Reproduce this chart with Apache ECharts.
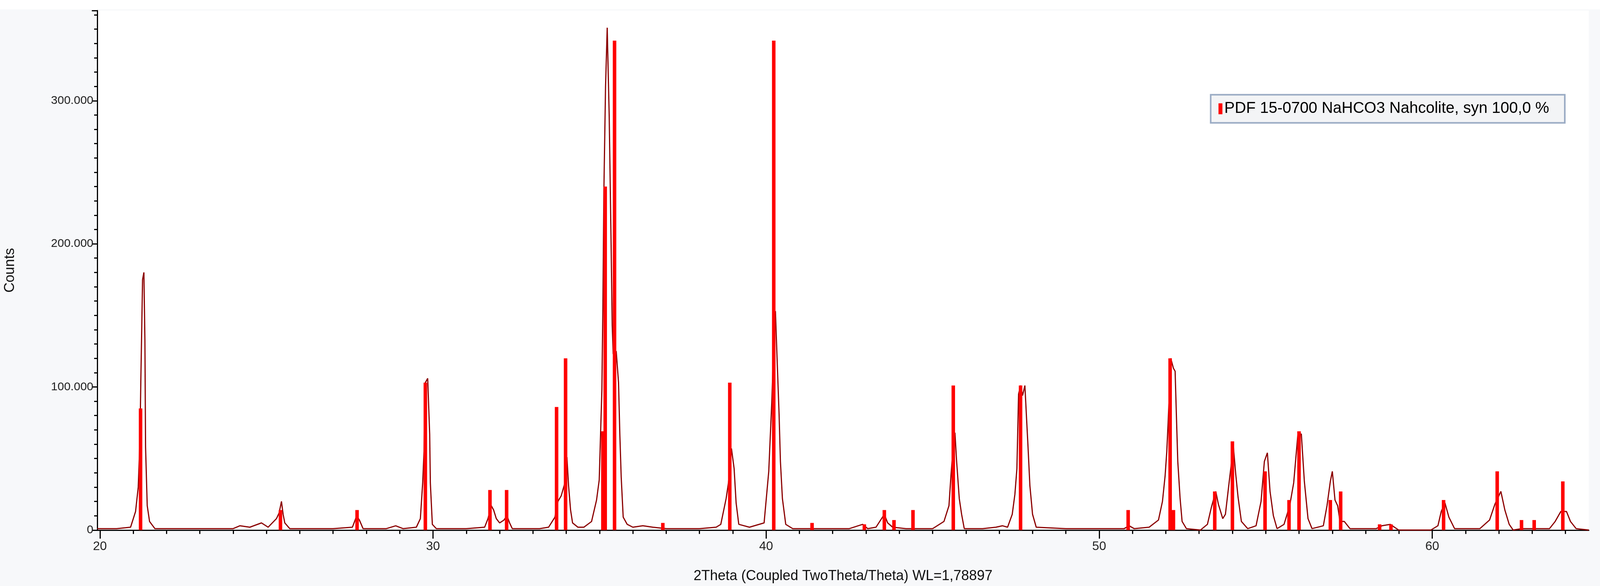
<!DOCTYPE html>
<html>
<head>
<meta charset="utf-8">
<script src="https://cdn.jsdelivr.net/npm/echarts@6/dist/echarts.min.js"></script>
<style>
html, body { margin: 0; padding: 0; background: #ffffff; overflow: hidden; width: 100%; height: 100%; }
#chart { position: absolute; left: 0; top: 1.6%; width: 100%; height: 98.4%; background: #f7f8fa; }
</style>
</head>
<body>
<div id="chart"></div>
<script>
// measured pattern: [2theta, counts in thousands]
var scanPoints = [
  [19.92,1],[20.5,1],[20.92,2],[21.07,13],[21.15,30],[21.2,62],[21.23,107],[21.25,134],[21.28,175],[21.32,180],
  [21.35,133],[21.37,58],[21.42,17],[21.49,6],[21.65,1],[22.5,1],[23.2,1],[24.0,1],[24.2,3],[24.5,2],
  [24.85,5],[25.05,2],[25.3,8],[25.38,12],[25.45,20],[25.5,11],[25.55,5],[25.7,1],[26.5,1],[27.0,1],
  [27.58,2],[27.71,10],[27.79,7],[27.9,1],[28.6,1],[28.88,3],[29.1,1],[29.5,2],[29.62,8],[29.69,33],
  [29.73,55],[29.77,103],[29.84,106],[29.9,67],[29.92,33],[29.98,4],[30.1,1],[31.0,1],[31.55,2],[31.65,8],
  [31.75,17],[31.82,14],[31.9,8],[32.0,5],[32.13,7],[32.22,10],[32.3,5],[32.38,1],[33.2,1],[33.47,2],
  [33.66,9],[33.75,20],[33.85,24],[33.96,33],[34.02,51],[34.07,31],[34.13,14],[34.19,5],[34.35,2],[34.53,2],
  [34.76,6],[34.91,21],[34.99,35],[35.07,98],[35.1,156],[35.13,237],[35.18,310],[35.23,351],[35.29,289],[35.35,195],
  [35.38,143],[35.41,123],[35.5,125],[35.57,103],[35.61,66],[35.65,37],[35.71,9],[35.83,4],[36.0,2],[36.3,3],
  [36.6,2],[37.0,1],[38.0,1],[38.5,2],[38.64,4],[38.8,22],[38.87,33],[38.96,57],[39.04,43],[39.1,19],
  [39.18,4],[39.5,2],[39.94,5],[40.08,41],[40.17,89],[40.23,130],[40.28,153],[40.33,120],[40.39,81],[40.43,48],
  [40.49,22],[40.59,4],[40.8,1],[41.5,1],[42.5,1],[42.9,4],[43.05,1],[43.3,2],[43.55,11],[43.65,5],
  [43.8,2],[44.2,1],[45.0,1],[45.34,6],[45.49,17],[45.55,38],[45.59,50],[45.67,68],[45.72,48],[45.8,22],
  [45.87,11],[45.95,1],[46.5,1],[46.9,2],[47.1,3],[47.25,2],[47.39,11],[47.47,25],[47.53,43],[47.58,95],
  [47.64,101],[47.7,94],[47.77,101],[47.82,78],[47.86,60],[47.92,31],[48.0,11],[48.11,2],[49.0,1],[50.0,1],
  [50.75,1],[50.9,3],[51.05,1],[51.5,2],[51.78,7],[51.9,20],[51.98,38],[52.03,55],[52.07,75],[52.15,120],
  [52.23,113],[52.28,111],[52.32,79],[52.36,48],[52.43,22],[52.49,6],[52.62,1],[53.04,0],[53.25,4],[53.37,16],
  [53.5,27],[53.58,18],[53.71,8],[53.79,11],[53.92,37],[54.03,58],[54.1,39],[54.17,23],[54.27,6],[54.46,1],
  [54.71,3],[54.86,20],[54.96,48],[55.05,54],[55.13,27],[55.23,10],[55.34,1],[55.55,4],[55.72,17],[55.84,33],
  [55.97,68],[56.07,67],[56.16,34],[56.27,8],[56.39,1],[56.73,3],[56.84,17],[56.94,34],[57.0,41],[57.08,21],
  [57.16,17],[57.23,6],[57.36,6],[57.53,1],[58.32,1],[58.49,3],[58.74,4],[58.99,0],[59.96,0],[60.17,3],
  [60.27,13],[60.38,19],[60.5,9],[60.67,1],[61.43,1],[61.72,7],[61.88,18],[62.06,27],[62.18,14],[62.31,4],
  [62.43,0],[62.68,1],[63.52,1],[63.69,6],[63.86,13],[64.03,13],[64.15,6],[64.32,1],[64.7,0]
];

// reference pattern PDF 15-0700: [2theta, counts in thousands]
var pdfSticks = [
  [21.22,85],[25.42,14],[27.72,14],[29.77,103],[31.71,28],[32.21,28],[33.71,86],[33.98,120],[35.10,69],[35.17,240],
  [35.45,342],[36.9,5],[38.91,103],[40.23,342],[41.38,5],[42.95,4],[43.55,14],[43.84,7],[44.41,14],[45.62,101],
  [47.64,101],[50.87,14],[52.13,120],[52.23,14],[53.47,27],[54.0,62],[54.98,41],[55.7,21],[56.0,69],[56.94,21],
  [57.25,27],[58.42,4],[58.76,4],[60.34,21],[61.95,41],[62.68,7],[63.06,7],[63.92,34]
];

var xMajorTicks = [20, 30, 40, 50, 60];
var xMinorTicks = [];
for (var t = 20; t <= 64; t++) xMinorTicks.push(t);

var legendName = 'PDF 15-0700 NaHCO3 Nahcolite, syn 100,0 %';
var xName = '2Theta (Coupled TwoTheta/Theta) WL=1,78897';

function toCounts(list) {
  return list.map(function (p) { return [p[0], p[1] * 1000]; });
}

var myChart = echarts.init(document.getElementById('chart'));
var option = {
  animation: false,
  grid: { left: '5.96%', right: '0.7%', top: '0.2%', bottom: '9.7%', show: true, backgroundColor: '#ffffff', borderWidth: 0 },
  legend: {
    data: [legendName],
    right: '2.2%', top: '14.8%',
    backgroundColor: '#f3f4f6',
    borderColor: '#9aabc4', borderWidth: 4,
    padding: [16, 40, 16, 20],
    icon: 'rect', itemWidth: 10, itemHeight: 28, itemGap: 10,
    textStyle: { fontFamily: 'Liberation Sans Narrow, Liberation Sans', fontSize: 40, color: '#000' }
  },
  xAxis: [{
    type: 'value', min: 19.92, max: 64.7,
    name: xName, nameLocation: 'middle', nameGap: 100,
    nameTextStyle: { fontFamily: 'Liberation Sans', fontSize: 36, color: '#111' },
    axisLine: { show: true, onZero: false, lineStyle: { color: '#000', width: 3 } },
    axisTick: { show: true, length: 22, lineStyle: { color: '#000', width: 3 }, customValues: xMajorTicks },
    axisLabel: { fontFamily: 'Liberation Sans', fontSize: 32, color: '#222', margin: 26, customValues: xMajorTicks },
    splitLine: { show: false }
  }, {
    type: 'value', min: 19.92, max: 64.7, position: 'bottom',
    axisLine: { show: false },
    axisTick: { show: true, length: 10, lineStyle: { color: '#000', width: 3 }, customValues: xMinorTicks },
    axisLabel: { show: false },
    splitLine: { show: false }
  }],
  yAxis: {
    type: 'value', min: 0, max: 363000, interval: 100000,
    name: 'Counts', nameLocation: 'middle', nameRotate: 90, nameGap: 205,
    nameTextStyle: { fontFamily: 'Liberation Sans', fontSize: 36, color: '#111' },
    axisLine: { show: true, lineStyle: { color: '#000', width: 3 } },
    axisTick: { show: true, length: 14, lineStyle: { color: '#000', width: 3 } },
    minorTick: { show: true, splitNumber: 10, length: 8, lineStyle: { color: '#000', width: 3 } },
    axisLabel: {
      fontFamily: 'Liberation Sans', fontSize: 30, color: '#222', margin: 10, showMaxLabel: false,
      formatter: function (v) { return v === 0 ? '0' : (v / 1000).toFixed(3); }
    },
    splitLine: { show: false }
  },
  series: [{
    name: 'scan', type: 'line', data: toCounts(scanPoints),
    showSymbol: false, symbol: 'none',
    lineStyle: { color: '#8b0000', width: 3 }, z: 2
  }, {
    name: legendName, type: 'bar', data: toCounts(pdfSticks),
    barWidth: 9, itemStyle: { color: '#ff0000' }, z: 3
  }]
};
myChart.setOption(option);
</script>
</body>
</html>
